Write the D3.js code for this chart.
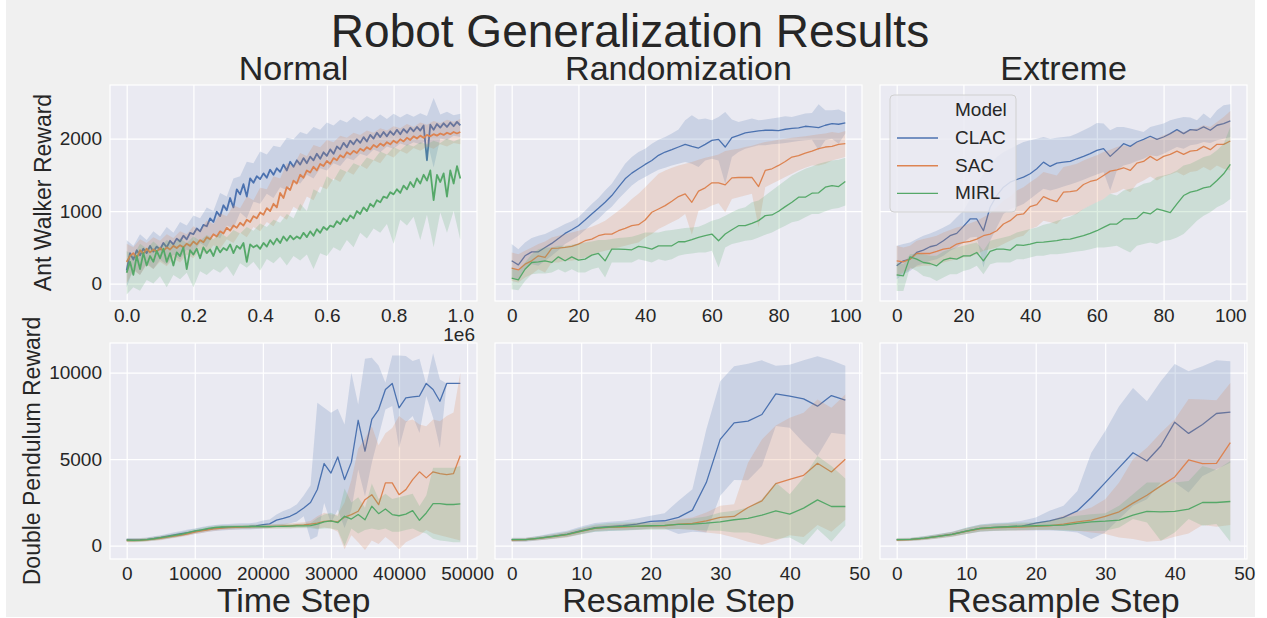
<!DOCTYPE html>
<html>
<head>
<meta charset="utf-8">
<script src="https://cdn.jsdelivr.net/npm/d3@7"></script>
<style>
  body { margin: 0; background: #fff; }
  text { font-family: "Liberation Sans", Arial, sans-serif; fill: #262626; }
</style>
</head>
<body>
<div id="chart"></div>
<script>
// chart size
const width = 1267;
const height = 618;

const models = ["CLAC", "SAC", "MIRL"];
const colors = ["#4c72b0", "#dd8452", "#55a868"];

// --- Ant walker, normal (x in raw time steps) ---
const normalSteps = d3.range(0, 1000001, 10000);
const normalBandSteps = d3.range(0, 1000001, 20000);
const normalClac = [180, 420, 330, 460, 390, 480, 420, 520, 440, 510,
  470, 560, 500, 590, 540, 620, 580, 660, 610, 700,
  680, 760, 720, 810, 790, 900, 850, 990, 930, 1080,
  1010, 1180, 1050, 1300, 1230, 1370, 1200, 1450, 1390, 1480,
  1440, 1520, 1460, 1570, 1500, 1590, 1540, 1640, 1560, 1680,
  1610, 1700, 1640, 1730, 1660, 1750, 1700, 1790, 1720, 1810,
  1760, 1850, 1790, 1890, 1850, 1940, 1880, 1970, 1920, 1990,
  1940, 2020, 1960, 2050, 2000, 2080, 2020, 2090, 2030, 2100,
  2050, 2120, 2060, 2130, 2080, 2150, 2100, 2160, 2110, 2180,
  1700, 2190, 2120, 2200, 2150, 2210, 2160, 2220, 2170, 2230, 2180];
const normalClacHi = [600, 520, 680, 600, 720, 650, 780, 700, 850, 800,
  940, 900, 1050, 1000, 1250, 1200, 1450, 1480, 1680, 1660,
  1820, 1780, 1900, 1880, 2010, 1990, 2090, 2060, 2160, 2120,
  2220, 2180, 2260, 2220, 2300, 2240, 2310, 2260, 2330, 2270,
  2340, 2290, 2340, 2300, 2350, 2310, 2560, 2330, 2370, 2320, 2340];
const normalClacLo = [-50, 200, 120, 280, 200, 330, 260, 400, 330, 470,
  420, 560, 500, 680, 620, 800, 760, 980, 900, 1130,
  1100, 1240, 1180, 1330, 1290, 1420, 1380, 1500, 1450, 1590,
  1560, 1660, 1620, 1730, 1700, 1790, 1760, 1850, 1810, 1890,
  1860, 1930, 1900, 1950, 1920, 1980, 1600, 2000, 1980, 2040, 2020];
const normalSac = [300, 380, 420, 350, 460, 410, 480, 430, 470, 440,
  490, 450, 500, 470, 520, 490, 530, 500, 550, 520,
  580, 540, 600, 570, 640, 610, 680, 650, 720, 690,
  770, 730, 800, 770, 840, 800, 880, 850, 930, 900,
  980, 950, 1040, 1000, 1100, 1050, 1250, 1180, 1330, 1290,
  1420, 1380, 1500, 1460, 1560, 1530, 1610, 1560, 1650, 1620,
  1690, 1650, 1730, 1700, 1770, 1740, 1810, 1780, 1830, 1800,
  1860, 1830, 1880, 1850, 1910, 1880, 1930, 1900, 1950, 1920,
  1970, 1940, 1990, 1960, 2010, 1980, 2030, 2000, 2040, 2010,
  2050, 2030, 2060, 2040, 2070, 2050, 2080, 2060, 2090, 2070, 2090];
const normalSacHi = [550, 500, 610, 560, 640, 590, 680, 630, 720, 680,
  790, 740, 870, 820, 970, 930, 1080, 1040, 1200, 1150,
  1320, 1300, 1480, 1450, 1660, 1620, 1800, 1760, 1910, 1880,
  1980, 1950, 2040, 2010, 2080, 2050, 2110, 2080, 2140, 2110,
  2170, 2140, 2200, 2160, 2220, 2190, 2240, 2210, 2260, 2230, 2270];
const normalSacLo = [0, 180, 120, 260, 200, 300, 240, 350, 290, 400,
  350, 470, 400, 530, 480, 610, 560, 700, 640, 780,
  720, 850, 790, 940, 880, 1060, 1000, 1200, 1150, 1340,
  1300, 1450, 1400, 1550, 1500, 1630, 1580, 1700, 1660, 1780,
  1740, 1830, 1790, 1870, 1830, 1890, 1860, 1920, 1890, 1940, 1920];
const normalMirl = [150, 300, 120, 380, 200, 420, 250, 380, 300, 450,
  350, 480, 300, 420, 250, 430, 380, 500, 200, 460,
  400, 480, 350, 500, 420, 470, 380, 510, 430, 490,
  460, 540, 420, 520, 480, 560, 300, 540, 500, 530,
  480, 560, 510, 600, 540, 620, 560, 650, 590, 660,
  610, 650, 620, 700, 640, 720, 660, 750, 700, 780,
  740, 800, 780, 860, 820, 900, 860, 940, 900, 1000,
  960, 1050, 1000, 1100, 1060, 1150, 1120, 1200, 1180, 1260,
  1230, 1300, 1250, 1350, 1300, 1400, 1330, 1450, 1380, 1500,
  1420, 1560, 1150, 1500, 1400, 1520, 1200, 1560, 1380, 1620, 1450];
const normalMirlHi = [450, 380, 550, 480, 580, 500, 600, 540, 620, 560,
  650, 590, 670, 610, 700, 640, 740, 690, 780, 730,
  830, 780, 880, 840, 960, 900, 1100, 1000, 1300, 1250,
  1480, 1420, 1580, 1540, 1660, 1620, 1740, 1700, 1820, 1780,
  1880, 1840, 1920, 1890, 1950, 1920, 1970, 1940, 2000, 1960, 2000];
const normalMirlLo = [-150, -50, -100, 50, 0, 100, -50, 120, 60, 150,
  -50, 170, 120, 200, 150, 240, 100, 280, 220, 300,
  180, 340, 280, 370, 250, 380, 320, 400, 200, 420,
  380, 500, 450, 600, 500, 700, 620, 760, 700, 820,
  550, 880, 800, 920, 600, 950, 500, 980, 700, 1000, 600];

// --- Ant walker, randomization / extreme (resample step 0..100) ---
const antSteps = d3.range(0, 101, 2);
const randClac = [314, 258, 383, 438, 438, 498, 554, 623, 692, 743,
  798, 877, 960, 1038, 1121, 1214, 1329, 1444, 1523, 1583,
  1643, 1698, 1768, 1814, 1846, 1883, 1920, 1892, 1869, 1920,
  1975, 1989, 1883, 2012, 2044, 2077, 2091, 2105, 2114, 2114,
  2109, 2128, 2141, 2146, 2169, 2160, 2151, 2183, 2206, 2197, 2215];
const randClacHi = [545, 475, 568, 628, 660, 683, 729, 775, 821, 858,
  914, 1006, 1098, 1181, 1283, 1375, 1514, 1652, 1745, 1814,
  1860, 1929, 1984, 2021, 2068, 2123, 2252, 2321, 2261, 2275,
  2252, 2298, 2367, 2261, 2229, 2252, 2275, 2252, 2261, 2275,
  2289, 2307, 2298, 2321, 2344, 2353, 2474, 2391, 2391, 2400, 2358];
const randClacLo = [83, 60, 198, 268, 245, 314, 383, 461, 545, 600,
  660, 738, 821, 891, 983, 1061, 1168, 1260, 1352, 1421,
  1468, 1523, 1569, 1597, 1629, 1652, 1675, 1652, 1606, 1698,
  1721, 1698, 1375, 1745, 1814, 1860, 1883, 1906, 1906, 1920,
  1929, 1938, 1952, 1966, 1975, 1984, 1837, 1975, 1998, 1929, 2068];
const randSac = [212, 189, 268, 314, 383, 360, 485, 489, 498, 512,
  545, 591, 614, 660, 683, 683, 729, 761, 798, 812,
  877, 983, 1029, 1075, 1135, 1200, 1237, 1121, 1274, 1320,
  1389, 1389, 1361, 1458, 1463, 1463, 1463, 1338, 1560, 1583,
  1629, 1684, 1745, 1763, 1800, 1827, 1860, 1883, 1892, 1920, 1929];
const randSacHi = [429, 406, 452, 498, 545, 581, 637, 660, 683, 706,
  729, 752, 785, 821, 868, 937, 1006, 1075, 1168, 1237,
  1329, 1421, 1514, 1560, 1597, 1629, 1652, 1675, 1707, 1735,
  1754, 1781, 1827, 1846, 1860, 1883, 1901, 1929, 1952, 1966,
  1984, 1998, 2012, 2021, 2031, 2044, 2058, 2068, 2091, 2077, 2105];
const randSacLo = [37, 14, 83, 129, 198, 152, 291, 291, 314, 314,
  337, 360, 383, 429, 452, 475, 498, 521, 545, 568,
  637, 683, 752, 798, 845, 891, 960, 674, 1006, 1029,
  1075, 1108, 983, 1168, 1191, 1214, 1237, 775, 1329, 1375,
  1421, 1468, 1514, 1560, 1597, 1629, 1629, 1652, 1698, 1721, 1745];
const randMirl = [74, 51, 198, 291, 300, 314, 291, 369, 314, 369,
  323, 337, 392, 415, 314, 475, 475, 471, 466, 512,
  498, 475, 521, 521, 521, 577, 577, 605, 637, 660,
  683, 591, 683, 743, 798, 798, 831, 868, 937, 946,
  997, 1061, 1121, 1191, 1191, 1246, 1251, 1329, 1352, 1338, 1408];
const randMirlHi = [222, 175, 291, 406, 475, 498, 498, 521, 521, 535,
  554, 568, 581, 600, 600, 614, 628, 637, 646, 674,
  706, 706, 706, 729, 738, 752, 766, 775, 785, 821,
  868, 891, 937, 983, 1029, 1052, 1121, 1144, 1214, 1283,
  1352, 1421, 1491, 1537, 1583, 1615, 1652, 1675, 1698, 1707, 1735];
const randMirlLo = [-78, -92, 37, 129, 138, 138, 152, 198, 152, 198,
  152, 152, 198, 222, 83, 291, 291, 291, 291, 337,
  314, 291, 337, 314, 337, 383, 406, 415, 429, 429,
  452, 222, 498, 545, 568, 591, 600, 637, 674, 706,
  752, 798, 845, 868, 914, 960, 960, 997, 1029, 1043, 1075];

const extClac = [245, 314, 337, 429, 461, 508, 531, 591, 660, 692,
  789, 891, 891, 729, 1052, 1214, 1329, 1398, 1435, 1468,
  1514, 1583, 1675, 1615, 1661, 1675, 1684, 1721, 1754, 1791,
  1837, 1860, 1754, 1837, 1929, 1892, 1952, 1989, 2031, 1989,
  2021, 2068, 2123, 2068, 2123, 2114, 2160, 2114, 2183, 2206, 2243];
const extClacHi = [522, 545, 568, 614, 660, 692, 729, 775, 821, 914,
  1006, 1168, 1375, 1514, 1652, 1745, 1814, 1860, 1906, 1952,
  1975, 1998, 2021, 1998, 2012, 2021, 2031, 2068, 2114, 2160,
  2215, 2206, 2114, 2160, 2160, 2137, 2114, 2091, 2160, 2183,
  2206, 2252, 2275, 2298, 2289, 2252, 2344, 2275, 2391, 2460, 2474];
const extClacLo = [60, 129, 175, 245, 277, 314, 337, 383, 452, 498,
  568, 637, 646, 222, 591, 775, 960, 1029, 1061, 1098,
  1168, 1237, 1306, 1283, 1306, 1338, 1366, 1398, 1431, 1468,
  1505, 1537, 1283, 1560, 1629, 1652, 1689, 1721, 1768, 1754,
  1791, 1837, 1883, 1860, 1906, 1920, 1952, 1938, 1975, 1998, 2021];
const extSac = [314, 300, 337, 415, 415, 415, 443, 475, 489, 545,
  568, 581, 614, 660, 683, 729, 821, 868, 946, 960,
  1061, 1089, 1200, 1158, 1131, 1260, 1269, 1283, 1366, 1408,
  1431, 1491, 1551, 1569, 1597, 1560, 1661, 1684, 1754, 1698,
  1754, 1781, 1827, 1781, 1827, 1837, 1892, 1846, 1920, 1920, 1966];
const extSacHi = [522, 498, 521, 591, 614, 637, 660, 706, 738, 775,
  798, 831, 868, 914, 969, 1052, 1144, 1200, 1283, 1329,
  1398, 1458, 1537, 1514, 1491, 1606, 1629, 1652, 1698, 1735,
  1768, 1814, 1846, 1883, 1906, 1883, 1952, 1975, 2021, 1998,
  2044, 2077, 2114, 2091, 2123, 2137, 2183, 2160, 2229, 2298, 2381];
const extSacLo = [106, 152, 198, 231, 245, 245, 268, 291, 314, 337,
  360, 369, 406, 452, 475, 498, 545, 591, 637, 660,
  752, 785, 868, 845, 821, 914, 937, 960, 1029, 1075,
  1121, 1168, 1237, 1260, 1306, 1260, 1375, 1421, 1477, 1421,
  1477, 1505, 1537, 1491, 1537, 1551, 1606, 1560, 1629, 1583, 1560];
const extMirl = [120, 106, 369, 337, 291, 277, 245, 323, 351, 337,
  383, 383, 429, 314, 443, 475, 475, 461, 535, 526,
  545, 568, 572, 581, 591, 609, 614, 637, 660, 692,
  729, 775, 821, 821, 891, 891, 900, 983, 960, 1029,
  1006, 978, 1098, 1214, 1260, 1283, 1320, 1338, 1421, 1514, 1643];
const extMirlHi = [291, 268, 406, 415, 406, 383, 383, 443, 475, 498,
  521, 545, 568, 452, 591, 614, 637, 660, 706, 729,
  752, 775, 812, 831, 868, 891, 923, 969, 1029, 1075,
  1121, 1168, 1237, 1214, 1283, 1306, 1329, 1375, 1398, 1468,
  1491, 1514, 1560, 1629, 1652, 1698, 1745, 1768, 1837, 1929, 2160];
const extMirlLo = [-102, -102, 222, 175, 106, 83, 37, 83, 129, 129,
  175, 198, 245, 129, 268, 291, 291, 291, 337, 337,
  360, 383, 383, 406, 406, 415, 429, 443, 452, 475,
  498, 498, 508, 521, 475, 429, 521, 545, 568, 545,
  591, 600, 637, 683, 775, 868, 937, 983, 1052, 1098, 1168];

// --- Double pendulum, normal (time step 0..49000) ---
const pendSteps = d3.range(0, 49001, 1000);
const pendClac = [347, 340, 345, 370, 420, 480, 550, 620, 690, 760,
  830, 900, 960, 1010, 1050, 1070, 1090, 1100, 1110, 1140,
  1220, 1260, 1480, 1580, 1700, 1900, 2180, 2500, 3250, 4750,
  4200, 5130, 3820, 4830, 7250, 5460, 7300, 7870, 9030, 9380,
  7970, 8550, 8600, 8650, 9380, 9030, 8350, 9380, 9380, 9380];
const pendClacHi = [450, 440, 450, 480, 540, 610, 690, 770, 850, 930,
  1000, 1080, 1150, 1200, 1240, 1260, 1280, 1290, 1300, 1340,
  1450, 1520, 1800, 2000, 2150, 2400, 2900, 3500, 8260, 7970,
  7680, 7910, 7000, 10000, 8160, 10800, 10870, 10420, 9420, 11000,
  11000, 10960, 10670, 10810, 9320, 11120, 9610, 9380, 9380, 9380];
const pendClacLo = [250, 245, 250, 270, 310, 360, 420, 480, 540, 600,
  680, 740, 800, 850, 880, 900, 920, 930, 940, 960,
  1000, 1020, 1150, 1200, 1300, 1400, 1700, 350, 540, 2470,
  1310, 2080, 1020, 2080, 4400, 2860, 4790, 6330, 7870, 8070,
  5650, 7100, 7490, 6520, 8650, 7390, 5650, 9380, 9380, 9380];
const pendSac = [300, 300, 310, 340, 380, 430, 490, 550, 610, 690,
  780, 850, 920, 980, 1020, 1040, 1060, 1080, 1090, 1100,
  1100, 1110, 1120, 1140, 1150, 1180, 1200, 1250, 1300, 1400,
  1430, 1380, 1650, 1800, 1990, 2660, 2950, 2370, 3630, 3630,
  2950, 3240, 3820, 4270, 3920, 4270, 4170, 4110, 4170, 5210];
const pendSacHi = [400, 400, 410, 440, 490, 540, 600, 660, 720, 800,
  890, 960, 1030, 1090, 1130, 1150, 1170, 1190, 1200, 1210,
  1210, 1230, 1250, 1270, 1290, 1320, 1350, 1420, 1700, 1900,
  1800, 1800, 2500, 3800, 5600, 6200, 6900, 5800, 6500, 6800,
  7500, 7200, 7300, 7000, 6900, 7300, 7200, 7500, 7700, 10000];
const pendSacLo = [200, 200, 210, 240, 280, 320, 380, 440, 500, 580,
  670, 740, 810, 870, 910, 930, 950, 970, 980, 990,
  990, 990, 990, 1010, 1010, 1030, 1050, 1080, 1000, 1050,
  1000, 800, -200, 600, 200, -250, 300, 100, 500, 200,
  -200, 200, 400, 600, 900, 700, 600, 500, 400, 300];
const pendMirl = [320, 310, 320, 350, 400, 460, 520, 590, 660, 760,
  850, 920, 1000, 1050, 1080, 1090, 1100, 1100, 1110, 1110,
  1110, 1100, 1120, 1120, 1130, 1140, 1150, 1160, 1250, 1380,
  1440, 1330, 1700, 1540, 1800, 1500, 2280, 1850, 2120, 1800,
  1730, 1820, 2030, 1470, 1890, 2430, 2430, 2380, 2380, 2420];
const pendMirlHi = [420, 410, 420, 460, 510, 580, 640, 710, 790, 880,
  970, 1040, 1110, 1160, 1190, 1200, 1210, 1210, 1220, 1220,
  1220, 1210, 1230, 1240, 1250, 1260, 1280, 1300, 1600, 1800,
  1900, 1700, 3300, 2500, 2800, 2200, 3600, 2700, 3000, 2700,
  2800, 2900, 3000, 2300, 2900, 4500, 4500, 4500, 4500, 4600];
const pendMirlLo = [220, 210, 220, 250, 290, 340, 400, 470, 540, 640,
  730, 800, 880, 940, 970, 980, 990, 990, 1000, 1000,
  1000, 990, 1000, 1000, 1000, 1010, 1010, 1010, 950, 1000,
  1000, 900, -40, 1000, 700, 900, 1000, 900, 1000, 800,
  800, 900, 1000, 800, 700, 400, 300, 250, 200, 200];

// --- Double pendulum, randomization / extreme (resample step 0..48) ---
const pendResSteps = d3.range(0, 49, 2);
const resClac = [346, 346, 442, 557, 672, 864, 1037, 1094, 1152, 1248,
  1402, 1440, 1632, 2054, 3648, 6144, 7104, 7200, 7584, 8774,
  8640, 8486, 8064, 8678, 8410];
const resClacHi = [461, 461, 576, 730, 864, 1114, 1306, 1382, 1440, 1574,
  1728, 1882, 2592, 3264, 6720, 9504, 10368, 10522, 10714, 10406,
  10464, 10714, 10944, 10714, 10406];
const resClacLo = [230, 230, 307, 422, 518, 672, 806, 845, 883, 922,
  998, 998, 672, 806, 768, 2880, 3802, 3782, 4608, 6912,
  6816, 5952, 5184, 6528, 6432];
const resSac = [326, 346, 422, 518, 634, 826, 998, 1056, 1075, 1114,
  1152, 1152, 1248, 1286, 1440, 1632, 1690, 2208, 2592, 3590,
  3840, 4070, 4762, 4262, 4992];
const resSacHi = [422, 440, 537, 653, 787, 998, 1152, 1210, 1248, 1306,
  1344, 1382, 1536, 1632, 1920, 2304, 2400, 4800, 6144, 6950,
  7392, 7680, 8448, 7968, 8736];
const resSacLo = [230, 250, 307, 384, 480, 672, 845, 903, 922, 941,
  960, 960, 960, 922, 768, 672, 480, 230, 50, 288,
  600, 500, 1200, 800, 1500];
const resMirl = [346, 346, 442, 538, 653, 845, 1018, 1075, 1114, 1133,
  1152, 1171, 1229, 1248, 1306, 1382, 1498, 1574, 1766, 2016,
  1824, 2170, 2650, 2266, 2266];
const resMirlHi = [442, 442, 557, 672, 806, 1037, 1229, 1306, 1344, 1344,
  1344, 1382, 1478, 1574, 1690, 1920, 2016, 2208, 2688, 3648,
  2976, 3936, 5184, 4608, 3878];
const resMirlLo = [250, 250, 326, 403, 499, 653, 806, 845, 883, 902,
  922, 922, 960, 922, 883, 864, 768, 768, 576, 384,
  480, 38, 960, 230, 1152];

const extPClac = [346, 365, 442, 557, 672, 845, 998, 1056, 1094, 1133,
  1306, 1440, 1632, 2016, 2784, 3648, 4512, 5376, 4896, 5760,
  7142, 6490, 7008, 7642, 7718];
const extPClacHi = [422, 442, 538, 672, 806, 1037, 1229, 1306, 1344, 1440,
  1632, 2016, 2304, 3168, 5376, 6624, 8064, 9120, 8352, 9504,
  10502, 10080, 10368, 10714, 10656];
const extPClacLo = [269, 288, 346, 442, 538, 672, 806, 845, 883, 883,
  883, 883, 845, 768, 384, 768, 1536, 2304, 2688, 3648,
  3648, 3072, 4032, 4416, 4800];
const extPSac = [326, 346, 422, 538, 653, 826, 979, 1037, 1056, 1075,
  1114, 1152, 1248, 1382, 1478, 1690, 1958, 2458, 2918, 3456,
  3974, 4954, 4742, 4762, 5952];
const extPSacHi = [422, 442, 518, 653, 787, 998, 1171, 1229, 1248, 1267,
  1306, 1440, 1728, 1958, 2208, 2688, 3648, 4992, 5664, 6528,
  7296, 8486, 8448, 8410, 9408];
const extPSacLo = [250, 269, 326, 422, 518, 672, 826, 864, 883, 883,
  902, 922, 922, 864, 768, 672, 480, 384, 230, 288,
  520, 700, 1200, 1100, 1200];
const extPMirl = [346, 365, 442, 538, 653, 845, 998, 1056, 1094, 1133,
  1152, 1171, 1190, 1286, 1382, 1420, 1478, 1766, 1978, 1958,
  1978, 2112, 2496, 2496, 2554];
const extPMirlHi = [442, 461, 557, 672, 806, 1037, 1210, 1267, 1306, 1344,
  1344, 1440, 1632, 1728, 1824, 1882, 2304, 2976, 3648, 3648,
  3648, 3744, 4608, 4378, 4896];
const extPMirlLo = [250, 269, 326, 422, 518, 672, 826, 864, 883, 902,
  922, 922, 864, 845, 845, 864, 1056, 1536, 1344, 288,
  768, 1536, 1152, 1248, 230];

// tick labels
const normalTicks = [0, 200000, 400000, 600000, 800000, 1000000];
const antTicks = [0, 20, 40, 60, 80, 100];
const pendTicks = [0, 10000, 20000, 30000, 40000, 50000];
const resTicks = [0, 10, 20, 30, 40, 50];
const antRewardTicks = [0, 1000, 2000];
const pendRewardTicks = [0, 5000, 10000];

const colTitles = ["Normal", "Randomization", "Extreme"];
const rowLabels = ["Ant Walker Reward", "Double Pendulum Reward"];
const xLabels = ["Time Step", "Resample Step", "Resample Step"];

// helper: one series record
function series(x, y, bx, lo, hi) {
  return {x: x, y: y, bx: bx, lo: lo, hi: hi};
}

const panels = [
  {col: 0, row: 0, xDomain: [-50000, 1050000], xTicks: normalTicks, fmt: d => (d / 1e6).toFixed(1), lw: 1.8,
    data: [series(normalSteps, normalClac, normalBandSteps, normalClacLo, normalClacHi),
           series(normalSteps, normalSac, normalBandSteps, normalSacLo, normalSacHi),
           series(normalSteps, normalMirl, normalBandSteps, normalMirlLo, normalMirlHi)]},
  {col: 1, row: 0, xDomain: [-5, 105], xTicks: antTicks, fmt: d3.format("d"), lw: 1.3,
    data: [series(antSteps, randClac, antSteps, randClacLo, randClacHi),
           series(antSteps, randSac, antSteps, randSacLo, randSacHi),
           series(antSteps, randMirl, antSteps, randMirlLo, randMirlHi)]},
  {col: 2, row: 0, xDomain: [-5, 105], xTicks: antTicks, fmt: d3.format("d"), lw: 1.3, legend: true,
    data: [series(antSteps, extClac, antSteps, extClacLo, extClacHi),
           series(antSteps, extSac, antSteps, extSacLo, extSacHi),
           series(antSteps, extMirl, antSteps, extMirlLo, extMirlHi)]},
  {col: 0, row: 1, xDomain: [-2450, 51450], xTicks: pendTicks, fmt: d3.format("d"), lw: 1.3,
    data: [series(pendSteps, pendClac, pendSteps, pendClacLo, pendClacHi),
           series(pendSteps, pendSac, pendSteps, pendSacLo, pendSacHi),
           series(pendSteps, pendMirl, pendSteps, pendMirlLo, pendMirlHi)]},
  {col: 1, row: 1, xDomain: [-2.4, 50.4], xTicks: resTicks, fmt: d3.format("d"), lw: 1.3,
    data: [series(pendResSteps, resClac, pendResSteps, resClacLo, resClacHi),
           series(pendResSteps, resSac, pendResSteps, resSacLo, resSacHi),
           series(pendResSteps, resMirl, pendResSteps, resMirlLo, resMirlHi)]},
  {col: 2, row: 1, xDomain: [-2.4, 50.4], xTicks: resTicks, fmt: d3.format("d"), lw: 1.3,
    data: [series(pendResSteps, extPClac, pendResSteps, extPClacLo, extPClacHi),
           series(pendResSteps, extPSac, pendResSteps, extPSacLo, extPSacHi),
           series(pendResSteps, extPMirl, pendResSteps, extPMirlLo, extPMirlHi)]}
];

// layout of the grid of axes
const colX = [110, 495, 880];
const rowY = [85, 343];
const pw = 367, ph = 216;
const rowDomains = [[-240, 2738], [-770, 11717]];
const rowTicks = [antRewardTicks, pendRewardTicks];
const fontStack = '"Liberation Sans", Arial, sans-serif';

const svg = d3.select("#chart").append("svg")
  .attr("width", width)
  .attr("height", height);

svg.append("rect").attr("x", 6).attr("y", 0).attr("width", 1249).attr("height", 617).attr("fill", "#f0f0f0");

svg.append("text")
  .attr("x", 630).attr("y", 47)
  .attr("text-anchor", "middle")
  .style("font-size", "46px")
  .text("Robot Generalization Results");

panels.forEach((p, i) => {
  const x = d3.scaleLinear().domain(p.xDomain).range([0, pw]);
  const y = d3.scaleLinear().domain(rowDomains[p.row]).range([ph, 0]);
  const g = svg.append("g").attr("transform", `translate(${colX[p.col]},${rowY[p.row]})`);

  g.append("rect").attr("width", pw).attr("height", ph).attr("fill", "#eaeaf2");

  // grid
  const gx = g.append("g").attr("transform", `translate(0,${ph})`)
    .call(d3.axisBottom(x).tickValues(p.xTicks).tickSize(-ph).tickFormat(""));
  const gy = g.append("g")
    .call(d3.axisLeft(y).tickValues(rowTicks[p.row]).tickSize(-pw).tickFormat(""));
  [gx, gy].forEach(a => {
    a.select(".domain").remove();
    a.selectAll("line").attr("stroke", "#fff").attr("stroke-width", 1.2);
  });
  g.append("rect").attr("width", pw).attr("height", ph)
    .attr("fill", "none").attr("stroke", "#fff").attr("stroke-width", 1.2);

  const clipId = "clip" + i;
  g.append("clipPath").attr("id", clipId).append("rect").attr("width", pw).attr("height", ph);
  const plot = g.append("g").attr("clip-path", `url(#${clipId})`);

  p.data.forEach((s, k) => {
    const pts = s.x.map((v, j) => [v, s.y[j]]);
    const band = s.bx.map((v, j) => [v, s.lo[j], s.hi[j]]);
    plot.append("path")
      .datum(pts)
      .attr("fill", "none")
      .attr("stroke", colors[k])
      .attr("stroke-width", p.lw)
      .attr("stroke-linejoin", "round")
      .attr("d", d3.line().x(d => x(d[0])).y(d => y(d[1])));
    plot.append("path")
      .datum(band)
      .attr("fill", colors[k])
      .attr("fill-opacity", 0.2)
      .attr("d", d3.area().x(d => x(d[0])).y0(d => y(d[1])).y1(d => y(d[2])));
  });

  // tick labels
  const ax = g.append("g").attr("transform", `translate(0,${ph})`)
    .call(d3.axisBottom(x).tickValues(p.xTicks).tickSize(0).tickPadding(8).tickFormat(p.fmt));
  ax.select(".domain").remove();
  ax.selectAll("text").style("font-size", "19px").attr("fill", "#262626").style("font-family", fontStack);

  if (p.col === 0) {
    const ay = g.append("g")
      .call(d3.axisLeft(y).tickValues(rowTicks[p.row]).tickSize(0).tickPadding(8).tickFormat(d3.format("d")));
    ay.select(".domain").remove();
    ay.selectAll("text").style("font-size", "19px").attr("fill", "#262626").style("font-family", fontStack);
  }

  if (p.row === 0) {
    g.append("text").attr("x", pw / 2).attr("y", -5).attr("text-anchor", "middle")
      .style("font-size", "34px").text(colTitles[p.col]);
  } else {
    g.append("text").attr("x", pw / 2).attr("y", ph + 53).attr("text-anchor", "middle")
      .style("font-size", "34px").text(xLabels[p.col]);
  }

  if (p.col === 0 && p.row === 0) {
    g.append("text").attr("x", pw - 2).attr("y", ph + 40).attr("text-anchor", "end")
      .style("font-size", "19px").text("1e6");
  }

  if (p.legend) {
    const lg = g.append("g").attr("transform", "translate(10,10)");
    lg.append("rect").attr("width", 126).attr("height", 117).attr("rx", 4)
      .attr("fill", "#eaeaf2").attr("fill-opacity", 0.85)
      .attr("stroke", "#d0d0d0").attr("stroke-width", 1);
    lg.append("text").attr("x", 65).attr("y", 21).style("font-size", "19px").text("Model");
    models.forEach((m, k) => {
      const yy = 49 + k * 27.7;
      lg.append("line").attr("x1", 7).attr("x2", 48).attr("y1", yy - 6).attr("y2", yy - 6)
        .attr("stroke", colors[k]).attr("stroke-width", 1.4);
      lg.append("text").attr("x", 65).attr("y", yy).style("font-size", "19px").text(m);
    });
  }
});

// row labels
[[51, 192.5], [40, 451]].forEach((pos, r) => {
  svg.append("text")
    .attr("transform", `translate(${pos[0]},${pos[1]}) rotate(-90)`)
    .attr("text-anchor", "middle")
    .style("font-size", "23px")
    .text(rowLabels[r]);
});
</script>
</body>
</html>
